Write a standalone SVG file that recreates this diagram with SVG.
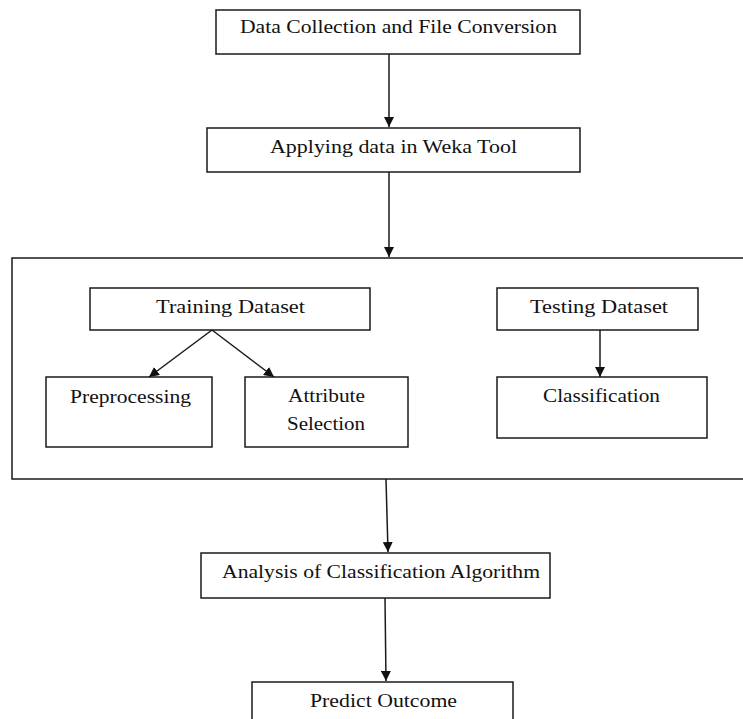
<svg xmlns="http://www.w3.org/2000/svg" width="743" height="719" viewBox="0 0 743 719">
<style>
.box{fill:#fff;stroke:#1a1a1a;stroke-width:1.5}
.t{font-family:"Liberation Serif","Times New Roman",serif;font-size:19px;fill:#111;text-anchor:start}
.c{stroke:#1a1a1a;stroke-width:1.5;fill:none;marker-end:url(#ah)}
</style>
<defs>
<marker id="ah" viewBox="0 0 10 10" refX="10" refY="5" markerWidth="10" markerHeight="10" markerUnits="userSpaceOnUse" orient="auto">
<path d="M0,0 L10,5 L0,10 z" fill="#111"/>
</marker>
</defs>
<rect width="743" height="719" fill="#fff"/>
<g id="container"><rect class="box" x="12" y="258" width="740" height="221"/></g>
<g id="n1"><rect class="box" x="216" y="10" width="364" height="44"/><text class="t" x="240" y="33" textLength="317" lengthAdjust="spacingAndGlyphs">Data Collection and File Conversion</text></g>
<g id="n2"><rect class="box" x="207" y="128" width="373" height="44"/><text class="t" x="270" y="153" textLength="247" lengthAdjust="spacingAndGlyphs">Applying data in Weka Tool</text></g>
<g id="n3"><rect class="box" x="90" y="288" width="280" height="42"/><text class="t" x="156" y="313" textLength="149" lengthAdjust="spacingAndGlyphs">Training Dataset</text></g>
<g id="n4"><rect class="box" x="497" y="288" width="201" height="42"/><text class="t" x="530" y="313" textLength="138" lengthAdjust="spacingAndGlyphs">Testing Dataset</text></g>
<g id="n5"><rect class="box" x="46" y="377" width="166" height="70"/><text class="t" x="70" y="403" textLength="121" lengthAdjust="spacingAndGlyphs">Preprocessing</text></g>
<g id="n6"><rect class="box" x="245" y="377" width="163" height="70"/><text class="t" x="288" y="402" textLength="77" lengthAdjust="spacingAndGlyphs">Attribute</text><text class="t" x="287" y="430" textLength="78" lengthAdjust="spacingAndGlyphs">Selection</text></g>
<g id="n7"><rect class="box" x="497" y="377" width="210" height="61"/><text class="t" x="543" y="402" textLength="117" lengthAdjust="spacingAndGlyphs">Classification</text></g>
<g id="n8"><rect class="box" x="201" y="553" width="349" height="45"/><text class="t" x="222" y="578" textLength="318" lengthAdjust="spacingAndGlyphs">Analysis of Classification Algorithm</text></g>
<g id="n9"><rect class="box" x="252" y="682" width="261" height="50"/><text class="t" x="310" y="707" textLength="147" lengthAdjust="spacingAndGlyphs">Predict Outcome</text></g>
<g id="connectors">
<line class="c" x1="389" y1="54" x2="389" y2="127"/>
<line class="c" x1="389" y1="172" x2="389" y2="257"/>
<line class="c" x1="212" y1="330" x2="149" y2="377"/>
<line class="c" x1="212" y1="330" x2="274" y2="377"/>
<line class="c" x1="600" y1="330" x2="600" y2="377"/>
<line class="c" x1="386" y1="479" x2="388" y2="552"/>
<line class="c" x1="385" y1="598" x2="386" y2="681"/>
</g>
</svg>
